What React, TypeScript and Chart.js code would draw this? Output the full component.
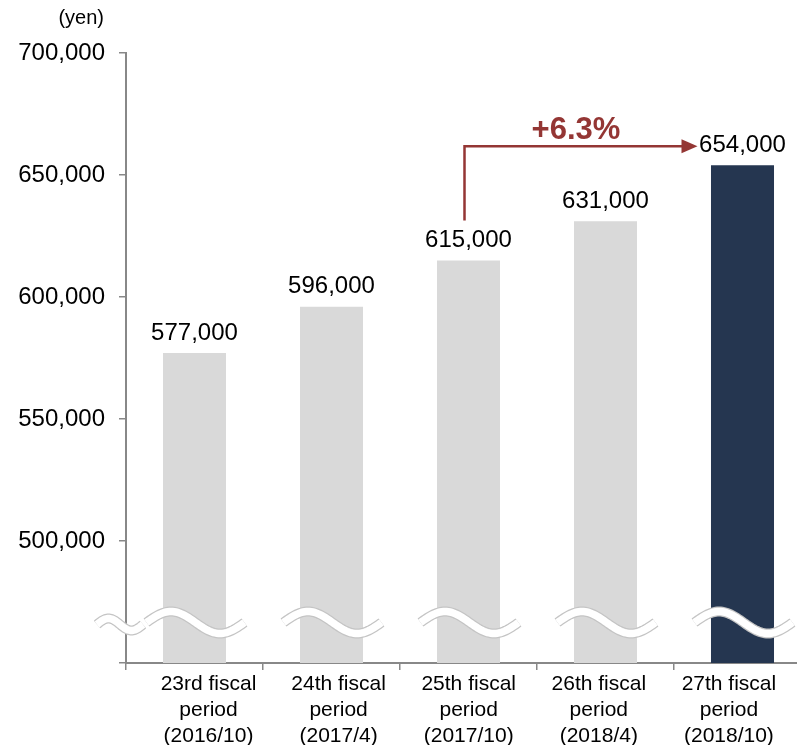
import React, { useEffect, useRef } from "react";
import { Chart, registerables } from "chart.js";

Chart.register(...registerables);

const categories: string[][] = [
  ["23rd fiscal", "period", "(2016/10)"],
  ["24th fiscal", "period", "(2017/4)"],
  ["25th fiscal", "period", "(2017/10)"],
  ["26th fiscal", "period", "(2018/4)"],
  ["27th fiscal", "period", "(2018/10)"],
];
const values: number[] = [577000, 596000, 615000, 631000, 654000];
const barColors: string[] = ["#d9d9d9", "#d9d9d9", "#d9d9d9", "#d9d9d9", "#253650"];
const yMin = 450000;
const yMax = 700000;
const yStep = 50000;
const unitLabel = "(yen)";
const growthLabel = "+6.3%";
const breakValue = 466600;
// label axis range (the category labels sit on a slightly narrower grid than the bars)
const labelAxisMin = -0.634;
const labelAxisMax = 4.631;

const FONT = "'Liberation Sans', Arial, sans-serif";
const fmt = (v: number) => v.toLocaleString("en-US");

function drawWave(ctx: CanvasRenderingContext2D, x0: number, x1: number, yc: number, amp: number) {
  const path = () => {
    ctx.beginPath();
    const n = 60;
    for (let i = 0; i <= n; i++) {
      const t = i / n;
      const x = x0 + (x1 - x0) * t;
      const y = yc - amp * Math.sin(2 * Math.PI * t);
      if (i === 0) ctx.moveTo(x, y);
      else ctx.lineTo(x, y);
    }
  };
  ctx.lineCap = "butt";
  path();
  ctx.strokeStyle = "#c4c4c4";
  ctx.lineWidth = 10;
  ctx.stroke();
  path();
  ctx.strokeStyle = "#ffffff";
  ctx.lineWidth = 7.5;
  ctx.stroke();
}

const overlayPlugin = {
  id: "overlay",
  afterDatasetsDraw(chart: any) {
    const ctx: CanvasRenderingContext2D = chart.ctx;
    const meta = chart.getDatasetMeta(0);
    const xs = chart.scales.x;
    const ys = chart.scales.y;
    ctx.save();
    // break waves
    const yb = ys.getPixelForValue(breakValue);
    meta.data.forEach((bar: any) => {
      drawWave(ctx, bar.x - 48, bar.x + 50, yb, 11);
    });
    const ax = chart.chartArea.left;
    drawWave(ctx, ax - 29, ax + 17, yb + 2, 6);
    // value labels
    ctx.fillStyle = "#000";
    ctx.font = `24px ${FONT}`;
    ctx.textAlign = "center";
    ctx.textBaseline = "middle";
    meta.data.forEach((bar: any, i: number) => {
      ctx.fillText(fmt(values[i]), bar.x, bar.y - 20);
    });
    // unit label
    ctx.font = `20px ${FONT}`;
    ctx.textAlign = "right";
    ctx.fillText(unitLabel, ax - 22, 18);
    // arrow
    const sx = xs.getPixelForValue(2) - 4;
    const sy = ys.getPixelForValue(values[2]) - 40;
    const ay = ys.getPixelForValue(values[4]) - 19;
    const ex = xs.getPixelForValue(4) - 45;
    ctx.strokeStyle = "#943634";
    ctx.fillStyle = "#943634";
    ctx.lineWidth = 2.5;
    ctx.beginPath();
    ctx.moveTo(sx, sy);
    ctx.lineTo(sx, ay);
    ctx.lineTo(ex - 14, ay);
    ctx.stroke();
    ctx.beginPath();
    ctx.moveTo(ex, ay);
    ctx.lineTo(ex - 16, ay - 7);
    ctx.lineTo(ex - 16, ay + 7);
    ctx.closePath();
    ctx.fill();
    ctx.font = `bold 31px ${FONT}`;
    ctx.textAlign = "center";
    ctx.textBaseline = "middle";
    ctx.fillText(growthLabel, (sx + ex) / 2 - 5, ay - 16);
    ctx.restore();
  },
};

export default function App() {
  const ref = useRef<HTMLCanvasElement>(null);
  useEffect(() => {
    if (!ref.current) return;
    const chart = new Chart(ref.current, {
      type: "bar",
      data: {
        labels: categories,
        datasets: [
          {
            data: values,
            backgroundColor: barColors,
            barPercentage: 0.46,
            categoryPercentage: 1,
            xAxisID: "x",
          },
        ],
      },
      options: {
        responsive: false,
        animation: false,
        devicePixelRatio: 1,
        layout: { padding: { top: 53, right: 9, left: 0, bottom: 0 } },
        plugins: { legend: { display: false }, tooltip: { enabled: false } },
        scales: {
          x: {
            position: "bottom",
            grid: {
              display: true,
              drawOnChartArea: false,
              drawTicks: true,
              tickLength: 7,
              color: "#888888",
              lineWidth: 1.5,
            },
            border: { display: true, color: "#888888", width: 2 },
            ticks: { display: false },
            afterFit: (s: any) => {
              s.height = 7;
            },
          },
          xLabels: {
            type: "linear",
            position: "bottom",
            offset: false,
            bounds: "data",
            min: labelAxisMin,
            max: labelAxisMax,
            grid: { display: false, drawTicks: false, offset: false },
            border: { display: false },
            afterBuildTicks: (s: any) => {
              s.ticks = categories.map((_, i) => ({ value: i }));
            },
            ticks: {
              color: "#000",
              font: { family: FONT, size: 21, lineHeight: 1.24 },
              padding: 1,
              maxRotation: 0,
              autoSkip: false,
              callback: (v: any) => categories[Math.round(Number(v))] ?? "",
            },
            afterFit: (s: any) => {
              s.height = 75;
            },
          },
          y: {
            min: yMin,
            max: yMax,
            grid: {
              display: true,
              drawOnChartArea: false,
              drawTicks: true,
              tickLength: 7,
              color: "#888888",
              lineWidth: 1.5,
            },
            border: { display: true, color: "#888888", width: 2 },
            ticks: {
              stepSize: yStep,
              color: "#000",
              font: { family: FONT, size: 24 },
              padding: 14,
              callback: (v: any) => (Number(v) === yMin ? "" : fmt(Number(v))),
            },
            afterFit: (s: any) => {
              s.width = 126;
            },
          },
        },
      } as any,
      plugins: [overlayPlugin],
    });
    return () => chart.destroy();
  }, []);
  return (
    <div
      style={{
        position: "fixed",
        left: 0,
        top: 0,
        width: 797,
        height: 745,
        overflow: "hidden",
        background: "#fff",
      }}
    >
      <canvas ref={ref} width={820} height={745} style={{ width: 820, height: 745, display: "block" }} />
    </div>
  );
}
